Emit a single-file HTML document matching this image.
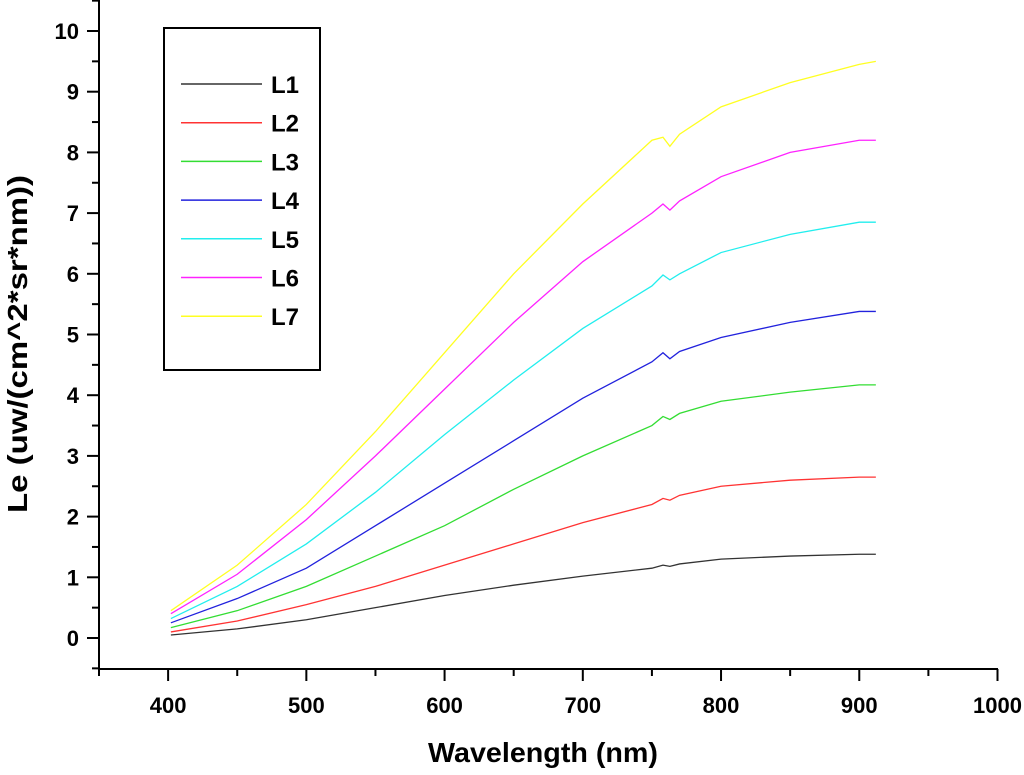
<!DOCTYPE html>
<html><head><meta charset="utf-8"><style>
body{margin:0;background:#fff}
svg{font-family:"Liberation Sans",Arial,sans-serif;font-weight:bold}
</style></head><body>
<svg id="c" width="1024" height="770"></svg>
<script>
const wavelengths=[402,450,500,550,600,650,700,750,758,763,770,800,850,900,912];
const seriesNames=["L1","L2","L3","L4","L5","L6","L7"];
const seriesColors=["#333333","#ff3333","#33dd33","#2222dd","#22eeee","#ff22ff","#ffff22"];
const L1=[0.05,0.15,0.3,0.5,0.7,0.87,1.02,1.15,1.2,1.18,1.22,1.3,1.35,1.38,1.38];
const L2=[0.1,0.28,0.55,0.85,1.2,1.55,1.9,2.2,2.3,2.27,2.35,2.5,2.6,2.65,2.65];
const L3=[0.17,0.45,0.85,1.35,1.85,2.45,3.0,3.5,3.65,3.6,3.7,3.9,4.05,4.17,4.17];
const L4=[0.25,0.65,1.15,1.85,2.55,3.25,3.95,4.55,4.7,4.6,4.72,4.95,5.2,5.38,5.38];
const L5=[0.32,0.85,1.55,2.4,3.35,4.25,5.1,5.8,5.98,5.9,6.0,6.35,6.65,6.85,6.85];
const L6=[0.4,1.05,1.95,3.0,4.1,5.2,6.2,7.0,7.15,7.05,7.2,7.6,8.0,8.2,8.2];
const L7=[0.45,1.2,2.2,3.4,4.7,6.0,7.15,8.2,8.25,8.1,8.3,8.75,9.15,9.45,9.5];
const xTicks=[400,500,600,700,800,900,1000];
const yTicks=[0,1,2,3,4,5,6,7,8,9,10];
const allSeries=[L1,L2,L3,L4,L5,L6,L7];
const NS="http://www.w3.org/2000/svg";
const svg=document.getElementById('c');
const X=v=>99+(v-350)*(997.5-99)/650;
const Y=v=>638-v*60.7;
function mk(t,a,p){const e=document.createElementNS(NS,t);for(const k in a)e.setAttribute(k,a[k]);(p||svg).appendChild(e);return e;}
let e=mk('line',{x1:99,y1:0,x2:99,y2:669,stroke:'#000','stroke-width':2});


e=mk('line',{x1:99,y1:669,x2:998,y2:669,stroke:'#000','stroke-width':2});


xTicks.forEach(v=>{
  mk('line',{x1:X(v),y1:669,x2:X(v),y2:681,stroke:'#000','stroke-width':2});
  mk('line',{x1:X(v-50),y1:669,x2:X(v-50),y2:676,stroke:'#000','stroke-width':2});
  const t=mk('text',{x:X(v),y:713,'text-anchor':'middle','font-size':22});
  t.textContent=v;
  
  
});
yTicks.forEach(v=>{
  mk('line',{x1:87,y1:Y(v),x2:99,y2:Y(v),stroke:'#000','stroke-width':2});
  mk('line',{x1:92,y1:Y(v+0.5),x2:99,y2:Y(v+0.5),stroke:'#000','stroke-width':2});
  const t=mk('text',{x:79,y:Y(v)+8,'text-anchor':'end','font-size':22});
  t.textContent=v;
  
  
});
mk('line',{x1:92,y1:Y(-0.5),x2:99,y2:Y(-0.5),stroke:'#000','stroke-width':2});
let t=mk('text',{x:543,y:762,'text-anchor':'middle','font-size':28,textLength:230,lengthAdjust:'spacingAndGlyphs'});
t.textContent='Wavelength (nm)';


t=mk('text',{x:0,y:0,'text-anchor':'middle','font-size':28,textLength:338,lengthAdjust:'spacingAndGlyphs',transform:'translate(27,344) rotate(-90)'});
t.textContent='Le (uw/(cm^2*sr*nm))';


allSeries.forEach((s,i)=>{
  const p=mk('polyline',{points:s.map((v,j)=>X(wavelengths[j])+','+Y(v)).join(' '),fill:'none',stroke:seriesColors[i],'stroke-width':1.3});
  
  
});
const g=mk('g',{});


mk('rect',{x:164,y:28,width:156,height:342,fill:'#fff',stroke:'#000','stroke-width':2},g);
seriesNames.forEach((n,i)=>{
  const y=84+i*38.7;
  const eg=mk('g',{},g);
  
  
  mk('line',{x1:181,y1:y,x2:262,y2:y,stroke:seriesColors[i],'stroke-width':1.5},eg);
  const tt=mk('text',{x:271,y:y+9,'font-size':24},eg);
  tt.textContent=n;
});
</script>
</body></html>
